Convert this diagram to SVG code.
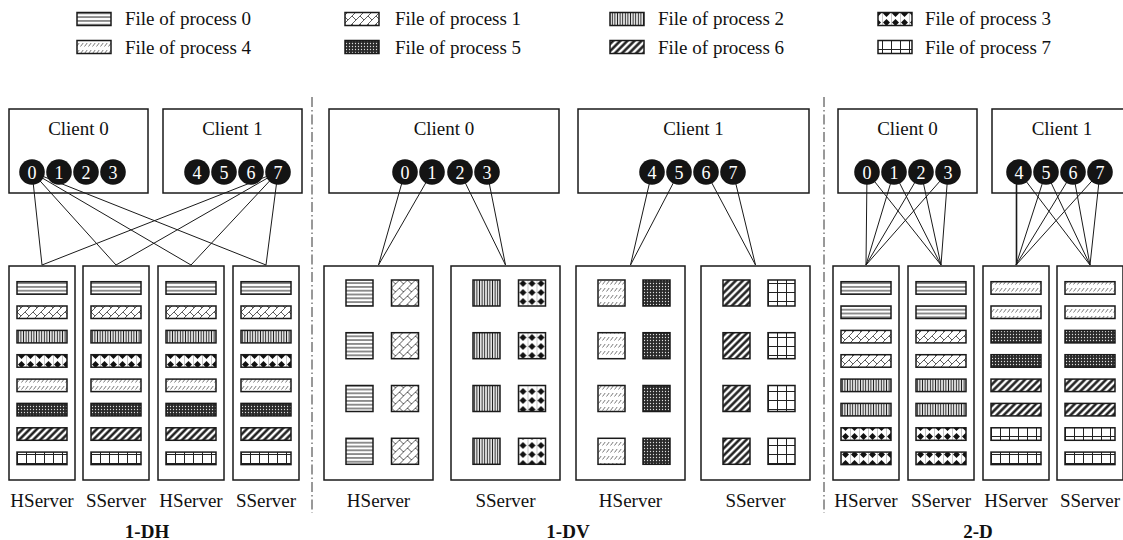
<svg xmlns="http://www.w3.org/2000/svg" xmlns:xlink="http://www.w3.org/1999/xlink" width="1123" height="540" viewBox="0 0 1123 540">
<style>
.t{font-family:"Liberation Serif","Times New Roman",serif;font-size:19px;fill:#111}
.c{text-anchor:middle}
.b{font-weight:bold;font-size:19px}
.box{fill:none;stroke:#1a1a1a;stroke-width:1.5}
.srv{fill:#fff;stroke:#1a1a1a;stroke-width:1.5}
.pf{stroke:#1a1a1a;stroke-width:1.5}
.f0{fill:url(#p0)}.f1{fill:url(#p1)}.f2{fill:url(#p2)}.f3{fill:url(#p3)}
.f4{fill:url(#p4)}.f5{fill:url(#p5)}.f6{fill:url(#p6)}.f7{fill:url(#p7)}
.dot{fill:#141414}
.num{font-family:"Liberation Serif","Times New Roman",serif;font-size:18px;fill:#fff;text-anchor:middle}
.ln{stroke:#1a1a1a;stroke-width:1;fill:none}
.dv{stroke:#333;stroke-width:1;stroke-dasharray:10 3 1.5 3;fill:none}
</style>
<defs>
<pattern id="p0" width="4" height="3.8" patternUnits="userSpaceOnUse"><rect width="4" height="3.8" fill="#fff"/><line x1="0" y1="1.9" x2="4" y2="1.9" stroke="#222" stroke-width="1"/></pattern>
<pattern id="p1" width="8" height="8" patternUnits="userSpaceOnUse"><rect width="8" height="8" fill="#fff"/><path d="M0 8L8 0M-1 1L1 -1M7 9L9 7M0 0L4 4" stroke="#333" stroke-width="0.8" fill="none"/></pattern>
<pattern id="p2" width="2.6" height="4" patternUnits="userSpaceOnUse"><rect width="2.6" height="4" fill="#fff"/><line x1="1.3" y1="0" x2="1.3" y2="4" stroke="#222" stroke-width="1.1"/></pattern>
<pattern id="p3" width="9" height="9" patternUnits="userSpaceOnUse"><rect width="9" height="9" fill="#fff"/><path d="M4.5 1L8 4.5L4.5 8L1 4.5Z" fill="#111"/><line x1="0" y1="0" x2="0" y2="9" stroke="#444" stroke-width="0.6"/></pattern>
<pattern id="p4" width="4" height="7" patternUnits="userSpaceOnUse"><rect width="4" height="7" fill="#fff"/><line x1="0.5" y1="4.5" x2="3.2" y2="1" stroke="#555" stroke-width="0.8"/></pattern>
<pattern id="p5" width="3" height="3" patternUnits="userSpaceOnUse"><rect width="3" height="3" fill="#2a2a2a"/><circle cx="1.5" cy="1.5" r="0.65" fill="#ddd"/></pattern>
<pattern id="p6" width="5" height="5" patternUnits="userSpaceOnUse" patternTransform="rotate(45)"><rect width="5" height="5" fill="#fff"/><line x1="2.5" y1="0" x2="2.5" y2="5" stroke="#111" stroke-width="2.4"/></pattern>
<pattern id="p7" width="9" height="9" patternUnits="userSpaceOnUse"><rect width="9" height="9" fill="#fff"/><path d="M0.5 0V9M0 4.5H9" stroke="#222" stroke-width="1" fill="none"/></pattern>
<g id="dh">
<rect y="281.7" width="50" height="12.5" class="pf f0"/><rect y="306" width="50" height="12.5" class="pf f1"/><rect y="330.4" width="50" height="12.5" class="pf f2"/><rect y="354.7" width="50" height="12.5" class="pf f3"/><rect y="379.1" width="50" height="12.5" class="pf f4"/><rect y="403.4" width="50" height="12.5" class="pf f5"/><rect y="427.8" width="50" height="12.5" class="pf f6"/><rect y="452.1" width="50" height="12.5" class="pf f7"/>
</g>
<g id="d2a">
<rect y="281.7" width="50" height="12.5" class="pf f0"/><rect y="306" width="50" height="12.5" class="pf f0"/><rect y="330.4" width="50" height="12.5" class="pf f1"/><rect y="354.7" width="50" height="12.5" class="pf f1"/><rect y="379.1" width="50" height="12.5" class="pf f2"/><rect y="403.4" width="50" height="12.5" class="pf f2"/><rect y="427.8" width="50" height="12.5" class="pf f3"/><rect y="452.1" width="50" height="12.5" class="pf f3"/>
</g>
<g id="d2b">
<rect y="281.7" width="50" height="12.5" class="pf f4"/><rect y="306" width="50" height="12.5" class="pf f4"/><rect y="330.4" width="50" height="12.5" class="pf f5"/><rect y="354.7" width="50" height="12.5" class="pf f5"/><rect y="379.1" width="50" height="12.5" class="pf f6"/><rect y="403.4" width="50" height="12.5" class="pf f6"/><rect y="427.8" width="50" height="12.5" class="pf f7"/><rect y="452.1" width="50" height="12.5" class="pf f7"/>
</g>
<g id="vcol">
<rect y="280" width="27" height="26" class="pf"/><rect y="332.7" width="27" height="26" class="pf"/><rect y="385.5" width="27" height="26" class="pf"/><rect y="438.3" width="27" height="26" class="pf"/>
</g>
</defs>
<rect width="1123" height="540" fill="#fff"/>

<g id="legend">
<g id="leg0"><rect x="77" y="12.5" width="34" height="13" class="pf f0"/><text x="125" y="25" class="t">File of process 0</text></g>
<g id="leg1"><rect x="345" y="12.5" width="34" height="13" class="pf f1"/><text x="395" y="25" class="t">File of process 1</text></g>
<g id="leg2"><rect x="610" y="12.5" width="34" height="13" class="pf f2"/><text x="658" y="25" class="t">File of process 2</text></g>
<g id="leg3"><rect x="878" y="12.5" width="34" height="13" class="pf f3"/><text x="925" y="25" class="t">File of process 3</text></g>
<g id="leg4"><rect x="77" y="40.5" width="34" height="13" class="pf f4"/><text x="125" y="53.5" class="t">File of process 4</text></g>
<g id="leg5"><rect x="345" y="40.5" width="34" height="13" class="pf f5"/><text x="395" y="53.5" class="t">File of process 5</text></g>
<g id="leg6"><rect x="610" y="40.5" width="34" height="13" class="pf f6"/><text x="658" y="53.5" class="t">File of process 6</text></g>
<g id="leg7"><rect x="878" y="40.5" width="34" height="13" class="pf f7"/><text x="925" y="53.5" class="t">File of process 7</text></g>
</g>

<g id="dividers">
<line x1="312" y1="97" x2="312" y2="513" class="dv"/>
<line x1="824" y1="97" x2="824" y2="513" class="dv"/>
</g>

<g id="connectors">
<line x1="32" y1="172" x2="42" y2="265" class="ln"/>
<line x1="32" y1="172" x2="116" y2="265" class="ln"/>
<line x1="32" y1="172" x2="191" y2="265" class="ln"/>
<line x1="32" y1="172" x2="266" y2="265" class="ln"/>
<line x1="278" y1="172" x2="42" y2="265" class="ln"/>
<line x1="278" y1="172" x2="116" y2="265" class="ln"/>
<line x1="278" y1="172" x2="191" y2="265" class="ln"/>
<line x1="278" y1="172" x2="266" y2="265" class="ln"/>
<line x1="405" y1="172" x2="378.5" y2="265" class="ln"/>
<line x1="432" y1="172" x2="378.5" y2="265" class="ln"/>
<line x1="460" y1="172" x2="505.5" y2="265" class="ln"/>
<line x1="487" y1="172" x2="505.5" y2="265" class="ln"/>
<line x1="652" y1="172" x2="630.5" y2="265" class="ln"/>
<line x1="679" y1="172" x2="630.5" y2="265" class="ln"/>
<line x1="706" y1="172" x2="755.5" y2="265" class="ln"/>
<line x1="733" y1="172" x2="755.5" y2="265" class="ln"/>
<line x1="867" y1="172" x2="866" y2="265" class="ln"/>
<line x1="867" y1="172" x2="941" y2="265" class="ln"/>
<line x1="894" y1="172" x2="866" y2="265" class="ln"/>
<line x1="894" y1="172" x2="941" y2="265" class="ln"/>
<line x1="921" y1="172" x2="866" y2="265" class="ln"/>
<line x1="921" y1="172" x2="941" y2="265" class="ln"/>
<line x1="948" y1="172" x2="866" y2="265" class="ln"/>
<line x1="948" y1="172" x2="941" y2="265" class="ln"/>
<line x1="1016.5" y1="172" x2="1016.5" y2="265" class="ln" style="stroke-width:1.6"/>
<line x1="1019" y1="172" x2="1090" y2="265" class="ln"/>
<line x1="1046" y1="172" x2="1016" y2="265" class="ln"/>
<line x1="1046" y1="172" x2="1090" y2="265" class="ln"/>
<line x1="1073" y1="172" x2="1016" y2="265" class="ln"/>
<line x1="1073" y1="172" x2="1090" y2="265" class="ln"/>
<line x1="1100" y1="172" x2="1016" y2="265" class="ln"/>
<line x1="1100" y1="172" x2="1090" y2="265" class="ln"/>
</g>

<g id="dh-client0"><rect x="9" y="109" width="139" height="84" class="box"/><text x="78.5" y="135" class="t c">Client 0</text>
<circle cx="32" cy="172" r="12.8" class="dot"/><text x="32" y="178.5" class="num">0</text>
<circle cx="59" cy="172" r="12.8" class="dot"/><text x="59" y="178.5" class="num">1</text>
<circle cx="86" cy="172" r="12.8" class="dot"/><text x="86" y="178.5" class="num">2</text>
<circle cx="113" cy="172" r="12.8" class="dot"/><text x="113" y="178.5" class="num">3</text></g>
<g id="dh-client1"><rect x="163" y="109" width="139" height="84" class="box"/><text x="232.5" y="135" class="t c">Client 1</text>
<circle cx="197" cy="172" r="12.8" class="dot"/><text x="197" y="178.5" class="num">4</text>
<circle cx="224" cy="172" r="12.8" class="dot"/><text x="224" y="178.5" class="num">5</text>
<circle cx="251" cy="172" r="12.8" class="dot"/><text x="251" y="178.5" class="num">6</text>
<circle cx="278" cy="172" r="12.8" class="dot"/><text x="278" y="178.5" class="num">7</text></g>

<g id="dh-s1"><rect x="9" y="266" width="66" height="214" class="srv"/><use xlink:href="#dh" x="17"/><text x="42" y="506.5" class="t c">HServer</text></g>
<g id="dh-s2"><rect x="83" y="266" width="66" height="214" class="srv"/><use xlink:href="#dh" x="91"/><text x="116" y="506.5" class="t c">SServer</text></g>
<g id="dh-s3"><rect x="158" y="266" width="66" height="214" class="srv"/><use xlink:href="#dh" x="166"/><text x="191" y="506.5" class="t c">HServer</text></g>
<g id="dh-s4"><rect x="233" y="266" width="66" height="214" class="srv"/><use xlink:href="#dh" x="241"/><text x="266" y="506.5" class="t c">SServer</text></g>
<text id="lbl-1dh" x="147" y="538" class="t c b">1-DH</text>

<g id="dv-client0"><rect x="329" y="109" width="230" height="84" class="box"/><text x="444" y="135" class="t c">Client 0</text>
<circle cx="405" cy="172" r="12.8" class="dot"/><text x="405" y="178.5" class="num">0</text>
<circle cx="432" cy="172" r="12.8" class="dot"/><text x="432" y="178.5" class="num">1</text>
<circle cx="460" cy="172" r="12.8" class="dot"/><text x="460" y="178.5" class="num">2</text>
<circle cx="487" cy="172" r="12.8" class="dot"/><text x="487" y="178.5" class="num">3</text></g>
<g id="dv-client1"><rect x="578" y="109" width="231" height="84" class="box"/><text x="693.5" y="135" class="t c">Client 1</text>
<circle cx="652" cy="172" r="12.8" class="dot"/><text x="652" y="178.5" class="num">4</text>
<circle cx="679" cy="172" r="12.8" class="dot"/><text x="679" y="178.5" class="num">5</text>
<circle cx="706" cy="172" r="12.8" class="dot"/><text x="706" y="178.5" class="num">6</text>
<circle cx="733" cy="172" r="12.8" class="dot"/><text x="733" y="178.5" class="num">7</text></g>

<g id="dv-s1"><rect x="324" y="266" width="109" height="214" class="srv"/><use xlink:href="#vcol" x="346" class="f0"/><use xlink:href="#vcol" x="391.5" class="f1"/><text x="378.5" y="506.5" class="t c">HServer</text></g>
<g id="dv-s2"><rect x="451" y="266" width="109" height="214" class="srv"/><use xlink:href="#vcol" x="473" class="f2"/><use xlink:href="#vcol" x="518.5" class="f3"/><text x="505.5" y="506.5" class="t c">SServer</text></g>
<g id="dv-s3"><rect x="576" y="266" width="109" height="214" class="srv"/><use xlink:href="#vcol" x="598" class="f4"/><use xlink:href="#vcol" x="643" class="f5"/><text x="630.5" y="506.5" class="t c">HServer</text></g>
<g id="dv-s4"><rect x="701" y="266" width="109" height="214" class="srv"/><use xlink:href="#vcol" x="723" class="f6"/><use xlink:href="#vcol" x="768" class="f7"/><text x="755.5" y="506.5" class="t c">SServer</text></g>
<text id="lbl-1dv" x="568" y="538" class="t c b">1-DV</text>

<g id="d2-client0"><rect x="838" y="109" width="139" height="84" class="box"/><text x="907.5" y="135" class="t c">Client 0</text>
<circle cx="867" cy="172" r="12.8" class="dot"/><text x="867" y="178.5" class="num">0</text>
<circle cx="894" cy="172" r="12.8" class="dot"/><text x="894" y="178.5" class="num">1</text>
<circle cx="921" cy="172" r="12.8" class="dot"/><text x="921" y="178.5" class="num">2</text>
<circle cx="948" cy="172" r="12.8" class="dot"/><text x="948" y="178.5" class="num">3</text></g>
<g id="d2-client1"><rect x="992" y="109" width="140" height="84" class="box"/><text x="1062" y="135" class="t c">Client 1</text>
<circle cx="1019" cy="172" r="12.8" class="dot"/><text x="1019" y="178.5" class="num">4</text>
<circle cx="1046" cy="172" r="12.8" class="dot"/><text x="1046" y="178.5" class="num">5</text>
<circle cx="1073" cy="172" r="12.8" class="dot"/><text x="1073" y="178.5" class="num">6</text>
<circle cx="1100" cy="172" r="12.8" class="dot"/><text x="1100" y="178.5" class="num">7</text></g>

<g id="d2-s1"><rect x="833" y="266" width="66" height="214" class="srv"/><use xlink:href="#d2a" x="841"/><text x="866" y="506.5" class="t c">HServer</text></g>
<g id="d2-s2"><rect x="908" y="266" width="66" height="214" class="srv"/><use xlink:href="#d2a" x="916"/><text x="941" y="506.5" class="t c">SServer</text></g>
<g id="d2-s3"><rect x="983" y="266" width="66" height="214" class="srv"/><use xlink:href="#d2b" x="991"/><text x="1016" y="506.5" class="t c">HServer</text></g>
<g id="d2-s4"><rect x="1057" y="266" width="66" height="214" class="srv"/><use xlink:href="#d2b" x="1065"/><text x="1090" y="506.5" class="t c">SServer</text></g>
<text id="lbl-2d" x="978" y="538" class="t c b">2-D</text>
</svg>
